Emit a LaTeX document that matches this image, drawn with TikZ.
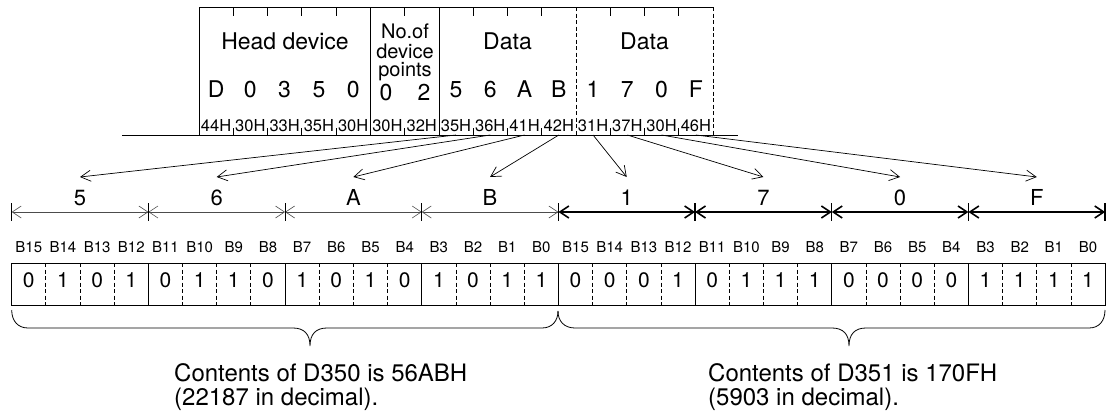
\documentclass[tikz,border=0pt]{standalone}
\usepackage{fontspec}
\setmainfont{TeX Gyre Heros}
\usetikzlibrary{arrows.meta}

\begin{document}
\begin{tikzpicture}[
x=1pt,y=-1pt,
txt/.style={inner sep=0pt,anchor=base},
big/.style={txt,font=\fontsize{23}{23}\selectfont},
mid/.style={txt,font=\fontsize{21}{21}\selectfont},
hexcode/.style={txt,font=\fontsize{16.5}{16.5}\selectfont},
bitname/.style={txt,font=\fontsize{15}{15}\selectfont},
note/.style={inner sep=0pt,anchor=base west,font=\fontsize{24}{24}\selectfont},
frame/.style={line width=0.8pt},
dframe/.style={line width=0.8pt,dash pattern=on 4pt off 2.5pt},
fan/.style={-{Straight Barb[length=10pt,width=11pt]},line width=0.7pt},
dimthin/.style={{Straight Barb[length=9pt,width=12pt]}-{Straight Barb[length=9pt,width=12pt]},line width=0.6pt,black!70},
dimthick/.style={{Straight Barb[length=9pt,width=12pt]}-{Straight Barb[length=9pt,width=12pt]},line width=1.6pt},
brace/.style={line width=0.8pt}
]
\useasboundingbox (0,0) rectangle (1112,410);

% HEADER FRAME
\draw[frame] (122,135) -- (738,135);
\draw[frame] (199,135) -- (199,7) -- (713,7);
\draw[frame] (370.3,7) -- (370.3,135);
\draw[frame] (438.9,7) -- (438.9,135);
\draw[dframe] (576,7) -- (576,135);
\draw[dframe] (713,7) -- (713,135);
\foreach \k in {1,2,3,4,6,8,9,10,12,13,14}
  \draw[frame] ({199+\k*34.27},7) -- ++(0,9) ({199+\k*34.27},135) -- ++(0,-7);

\node[big] (head) at (285,49) {Head device};
\node[big] (data1) at (507.5,49) {Data};
\node[big] (data2) at (644.5,49) {Data};
\node[mid,font=\fontsize{20}{20}\selectfont] (npa) at (405,38) {No.of};
\node[mid,font=\fontsize{20}{20}\selectfont] (npb) at (405,58) {device};
\node[mid,font=\fontsize{20}{20}\selectfont] (npc) at (405,76) {points};

% CHARACTERS
\foreach \c [count=\k from 0] in {D,0,3,5,0}
  \node[big] (c\k) at ({216.1+\k*34.27},97) {\c};
\node[big] (c5) at (386,100) {0};
\node[big] (c6) at (424,100) {2};
\foreach \c [count=\k from 7] in {5,6,A,B,1,7,0,F}
  \node[big] (c\k) at ({216.1+\k*34.27},97) {\c};

% ASCII CODES
\foreach \h [count=\k from 0] in {44H,30H,33H,35H,30H,30H,32H,35H,36H,41H,42H,31H,37H,30H,46H}
  \node[hexcode] (h\k) at ({216.1+\k*34.27},131) {\h};

% HEX DIGITS
\foreach \c [count=\j from 0] in {5,6,A,B,1,7,0,F}
  \node[mid,font=\fontsize{22}{22}\selectfont] (n\j) at ({80+\j*136.68},205) {\c};

\foreach \j in {0,...,7}{
  \pgfmathtruncatemacro\k{\j+7}
  \draw[fan] ([yshift=-4pt]h\k.base) -- ([yshift=28pt]n\j.base);
}

% DIMENSION LINE
\foreach \i in {0,...,8}
  \coordinate (d\i) at ({11.7+\i*136.68},212);
\foreach \i in {0,...,3}{
  \pgfmathtruncatemacro\nx{\i+1}
  \draw[dimthin] (d\i) -- (d\nx);
}
\foreach \i in {4,...,7}{
  \pgfmathtruncatemacro\nx{\i+1}
  \draw[dimthick] (d\i) -- (d\nx);
}
\foreach \i in {0,...,4}
  \draw[line width=0.8pt] ([yshift=9pt]d\i) -- ([yshift=-9pt]d\i);
\foreach \i in {5,...,8}
  \draw[line width=1.4pt] ([yshift=9pt]d\i) -- ([yshift=-9pt]d\i);

% BIT TABLE
\foreach \i in {0,...,31}{
  \pgfmathtruncatemacro\b{15-mod(\i,16)}
  \node[bitname] (bn\i) at ({28.8+\i*34.17},252.5) {B\b};
}
\draw[frame] (11.7,263) rectangle (1105.1,305);
\foreach \i in {1,...,31}{
  \pgfmathtruncatemacro\r{mod(\i,4)}
  \ifnum\r=0
    \draw[frame] ({11.7+\i*34.17},263) -- ++(0,42);
  \else
    \draw[dframe] ({11.7+\i*34.17},263) -- ++(0,42);
  \fi
}
\foreach \v [count=\i from 0] in {0,1,0,1,0,1,1,0,1,0,1,0,1,0,1,1,0,0,0,1,0,1,1,1,0,0,0,0,1,1,1,1}
  \node[mid] (bv\i) at ({28.8+\i*34.17},287) {\v};

% BRACES
\draw[brace] (11.7,310) .. controls (11.7,321) and (18,328) .. (28,328)
  -- (293,328) .. controls (304,328) and (310,334) .. (310,346)
  .. controls (310,334) and (316,328) .. (327,328)
  -- (542,328) .. controls (552,328) and (558,321) .. (558,311);
\draw[brace] (558,311) .. controls (558,321) and (564,328) .. (575,328)
  -- (832,328) .. controls (843,328) and (849,334) .. (849,346)
  .. controls (849,334) and (855,328) .. (866,328)
  -- (1089,328) .. controls (1099,328) and (1105,321) .. (1105,310);

% CONTENTS
\node[note] (cont1a) at (174,381) {Contents of D350 is 56ABH};
\node[note] (cont1b) at (174,405) {(22187 in decimal).};
\node[note] (cont2a) at (708,381) {Contents of D351 is 170FH};
\node[note] (cont2b) at (708,405) {(5903 in decimal).};

\end{tikzpicture}
\end{document}
